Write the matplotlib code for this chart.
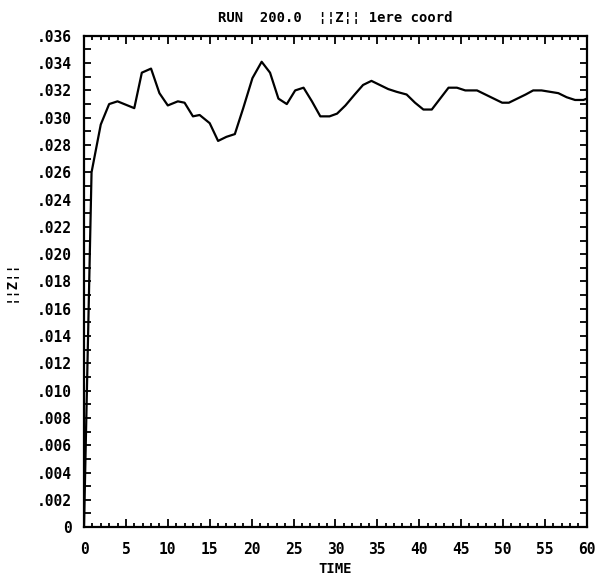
import matplotlib
matplotlib.use('Agg')
import matplotlib.pyplot as plt
from matplotlib.ticker import MultipleLocator, FuncFormatter

# Data
time = [0.0, 0.9, 2.0, 3.0, 4.0, 6.0, 6.9, 8.0, 9.0, 10.0,
        11.2, 12.0, 13.0, 13.8, 15.0, 16.0, 17.0, 18.0, 19.0, 20.1,
        21.2, 22.2, 23.2, 24.2, 25.2, 26.2, 27.2, 28.2, 29.3, 30.2,
        31.2, 32.3, 33.3, 34.3, 35.3, 36.3, 37.3, 38.5, 39.5, 40.5,
        41.5, 42.5, 43.5, 44.5, 45.5, 46.9, 47.9, 48.9, 49.9, 50.7,
        51.7, 52.7, 53.6, 54.6, 55.6, 56.6, 57.6, 58.6, 59.6, 60.0]
znorm = [0.0, .0260, .0295, .0310, .0312, .0307, .0333, .0336, .0318, .0309,
         .0312, .0311, .0301, .0302, .0296, .0283, .0286, .0288, .0307, .0329,
         .0341, .0333, .0314, .0310, .0320, .0322, .0312, .0301, .0301, .0303,
         .0309, .0317, .0324, .0327, .0324, .0321, .0319, .0317, .0311, .0306,
         .0306, .0314, .0322, .0322, .0320, .0320, .0317, .0314, .0311, .0311,
         .0314, .0317, .0320, .0320, .0319, .0318, .0315, .0313, .0313, .0314]

title = 'RUN  200.0  \u00a6\u00a6Z\u00a6\u00a6 1ere coord'

plt.rcParams['font.family'] = 'DejaVu Sans Mono'
plt.rcParams['font.weight'] = 'bold'

fig = plt.figure(figsize=(6.0, 5.78), dpi=100)
ax = fig.add_axes([0.14, 0.088, 0.838, 0.85])

ax.plot(time, znorm, color='black', linewidth=1.6)

ax.set_xlim(0, 60)
ax.set_ylim(0, 0.036)

ax.xaxis.set_major_locator(MultipleLocator(5))
ax.xaxis.set_minor_locator(MultipleLocator(1))
ax.yaxis.set_major_locator(MultipleLocator(0.002))
ax.yaxis.set_minor_locator(MultipleLocator(0.001))

ax.yaxis.set_major_formatter(FuncFormatter(
    lambda v, p: '0' if abs(v) < 1e-9 else f'{v:.3f}'.lstrip('0')))

ax.tick_params(which='both', direction='in', top=True, right=True,
               width=1.3, labelsize=10.5)
ax.tick_params(axis='x', which='major', length=6, pad=11)
ax.tick_params(axis='x', which='minor', length=3)
ax.tick_params(axis='y', which='both', length=5, pad=8.5)

for sp in ax.spines.values():
    sp.set_linewidth(1.6)

ax.set_title(title, fontsize=10, fontweight='bold', pad=10)
ax.set_xlabel('TIME', fontsize=10, fontweight='bold', labelpad=3)
ax.set_ylabel('\u00a6\u00a6Z\u00a6\u00a6', fontsize=10, fontweight='bold', labelpad=14)

plt.savefig('out.png', dpi=100)
